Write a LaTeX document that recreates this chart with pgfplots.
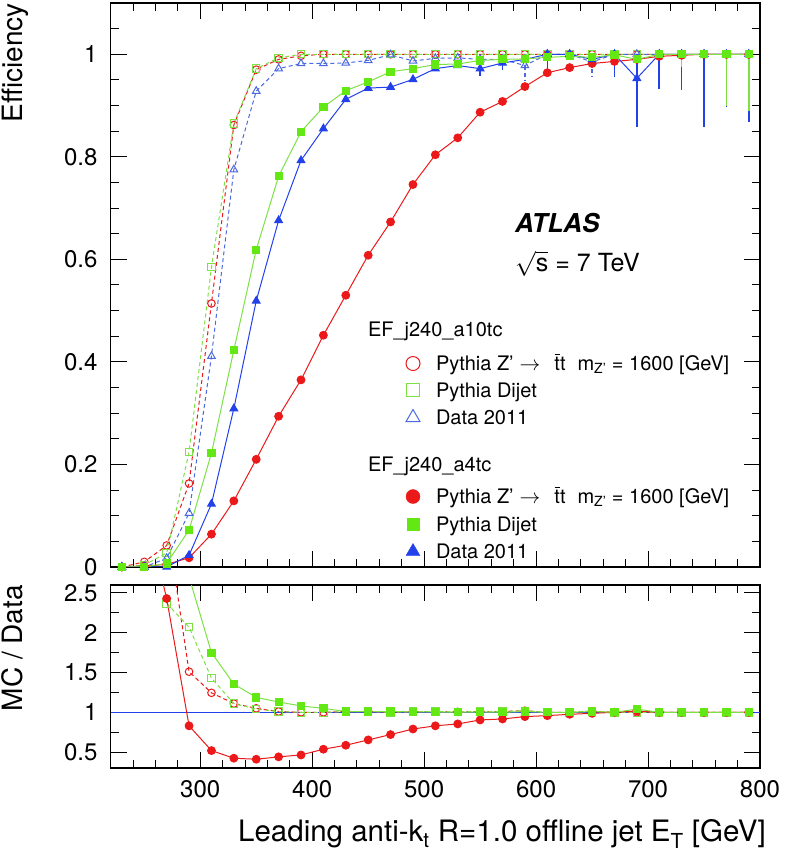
\documentclass[border=0pt]{standalone}
\usepackage{pgfplots}
\pgfplotsset{compat=1.18}
\usepackage{fontspec}
\setmainfont{TeX Gyre Heros}
\definecolor{cred}{RGB}{235,25,25}
\definecolor{cgreen}{RGB}{100,232,20}
\definecolor{cgreenl}{RGB}{125,225,70}
\definecolor{cblue}{RGB}{35,65,235}
\definecolor{cbluel}{RGB}{75,105,225}
\newcommand\fs[1]{\fontsize{#1}{#1}\selectfont}
\newcommand\rs[1]{\rule{0pt}{#1pt}}
\newcommand\ttbar{\makebox[0pt][l]{\hspace{0.3pt}\raisebox{15.5pt}{\rule{5.6pt}{1.3pt}}}tt}
\tikzset{dsh/.style={dash pattern=on 4pt off 3pt}}
\pgfplotsset{
  myax/.style={
    scale only axis, width=649.3pt, xmin=220, xmax=800,
    axis line style={line width=1.2pt, black},
    xtick={300,400,500,600,700,800},
    minor xtick={220,240,...,800},
    tick style={line width=1pt, black},
    major tick length=16pt, minor tick length=8pt,
    tick align=inside, xtick pos=both, ytick pos=both,
    tick label style={font=\fs{24}},
    /pgf/number format/assume math mode=true,
    yticklabel style={inner sep=0pt, xshift=-13pt},
    xticklabel style={inner sep=0pt, yshift=-12pt},
    clip=true,
  },
}
\begin{document}
\begin{tikzpicture}[x=1pt,y=1pt]
\useasboundingbox (0,0) rectangle (786,857);
% ---------------- main panel ----------------
\begin{axis}[myax, at={(110.7pt,290pt)}, anchor=south west, height=564pt,
  ymin=0, ymax=1.1, ytick={0,0.2,0.4,0.6,0.8,1},
  minor ytick={0.05,0.1,0.15,0.25,0.3,0.35,0.45,0.5,0.55,0.65,0.7,0.75,0.85,0.9,0.95,1.05},
  xticklabels={},
  legend image code/.code={\draw[#1] plot coordinates {(0pt,7pt)};},
  legend cell align=left,
  legend style={at={(rel axis cs:0.4548,0.4441)}, anchor=north west, draw=none, fill=none,
    inner sep=0pt, outer sep=0pt, row sep=0pt, column sep=16pt,
    nodes={inner sep=0pt, outer sep=0pt}, cells={anchor=base west}, font=\fs{20}},
]
% a10tc : Pythia Z'
\addplot[cred, line width=1pt, dsh, mark=o, mark size=3.8pt, mark options={solid}, forget plot] coordinates {
(230,0)(250,0.01)(270,0.042)(290,0.163)(310,0.514)(330,0.862)(350,0.97)(370,0.99)(390,0.997)(410,1)
(430,1)(450,1)(470,1)(490,1)(510,1)(530,1)(550,1)(570,1)(590,1)(610,1)(630,1)(650,1)(670,1)(690,1)
(710,1)(730,1)(750,1)(770,1)(790,1)};
% a10tc : Pythia Dijet
\addplot[cgreenl, line width=1pt, dsh, mark=square, mark size=3.7pt, mark options={solid}, forget plot] coordinates {
(230,0)(250,0.004)(270,0.027)(290,0.224)(310,0.585)(330,0.865)(350,0.972)(370,0.993)(390,1)(410,1)
(430,1)(450,1)(470,1)(490,1)(510,1)(530,1)(550,1)(570,1)(590,1)(610,1)(630,1)(650,1)(670,1)(690,1)
(710,1)(730,1)(750,1)(770,1)(790,1)};
% a10tc : Data 2011
\addplot[cbluel, line width=1pt, dsh, mark=triangle, mark size=4.4pt, mark options={solid}, forget plot,
  error bars/.cd, y dir=both, y explicit, error mark=none, error bar style={line width=1.3pt, cbluel, dsh}] coordinates {
(230,0)(250,0)(270,0.017)(290,0.105)(310,0.411)(330,0.775)(350,0.928)(370,0.972)(390,0.982)(410,0.982)
(430,0.983)(450,0.988)(470,0.999)(490,0.987)(510,0.992)(530,0.993)(550,0.99)(570,0.99)
(590,0.978) -= (0,0.03)
(610,1)(630,1)
(650,0.985) -= (0,0.03)
(670,1)(690,1)(710,1)(730,1)(750,1)(770,1)(790,1)};
% a4tc : Pythia Z'
\addplot[cred, line width=1pt, mark=*, mark size=3.9pt, forget plot] coordinates {
(230,0)(250,0.002)(270,0.005)(290,0.018)(310,0.064)(330,0.129)(350,0.21)(370,0.294)(390,0.365)(410,0.452)
(430,0.53)(450,0.608)(470,0.673)(490,0.746)(510,0.804)(530,0.837)(550,0.887)(570,0.908)(590,0.937)
(610,0.964)(630,0.974)(650,0.982)(670,0.986)(690,0.99)(710,0.996)(730,0.998)(750,1)(770,1)(790,1)};
% a4tc : Data 2011
\addplot[cblue, line width=1pt, mark=triangle*, mark size=4.4pt, forget plot,
  error bars/.cd, y dir=both, y explicit, error mark=none, error bar style={line width=1.5pt, cblue}] coordinates {
(230,0)(250,0)(270,0)(290,0.023)(310,0.123)(330,0.309)(350,0.519)(370,0.676)(390,0.793)(410,0.855)
(430,0.912)(450,0.934)(470,0.936)(490,0.951)(510,0.972)(530,0.978)
(550,0.972) -= (0,0.014)
(570,0.983) -= (0,0.014)
(590,0.99)
(610,1) -= (0,0.044)
(630,1)(650,0.99)
(670,1) -= (0,0.044)
(690,0.953) += (0,0.047) -= (0,0.095)
(710,1) -= (0,0.067)
(730,1) -= (0,0.07)
(750,1) -= (0,0.142)
(770,1) -= (0,0.103)
(790,1) -= (0,0.132)};
% a4tc : Pythia Dijet
\addplot[cgreenl, line width=1pt, mark=square*, mark size=3.6pt, mark options={cgreen}, forget plot,
  error bars/.cd, y dir=both, y explicit, error mark=none, error bar style={line width=1.5pt, cgreenl}] coordinates {
(230,0)(250,0)(270,0.007)(290,0.072)(310,0.222)(330,0.423)(350,0.619)(370,0.762)(390,0.849)(410,0.897)
(430,0.929)(450,0.946)(470,0.966)(490,0.972)(510,0.98)(530,0.981)(550,0.988)(570,0.99)(590,0.991)
(610,0.994)(630,0.996)(650,0.994)(670,0.999)(690,0.99)(710,1)
(730,1) -= (0,0.025)
(750,1)
(770,1) -= (0,0.1)
(790,1) -= (0,0.11)};
% legend
\addlegendimage{empty legend}
\addlegendentry{\hspace*{-68pt}EF\_j240\_a10tc\rs{19.5}}
\addlegendimage{only marks, mark=o, cred, mark size=7pt, line width=1pt}
\addlegendentry{Pythia Z’\hspace{6pt}$\rightarrow$\hspace{14pt}\ttbar\hspace{12pt}m\textsubscript{Z’} = 1600 [GeV]\rs{33}}
\addlegendimage{only marks, mark=square, cgreenl, mark size=6.3pt, line width=1pt}
\addlegendentry{Pythia Dijet\rs{25}}
\addlegendimage{only marks, mark=triangle, cbluel, mark size=8pt, line width=1pt}
\addlegendentry{Data 2011\rs{26}}
\addlegendimage{empty legend}
\addlegendentry{\hspace*{-68pt}EF\_j240\_a4tc\rs{45}}
\addlegendimage{only marks, mark=*, cred, mark size=7pt}
\addlegendentry{Pythia Z’\hspace{6pt}$\rightarrow$\hspace{14pt}\ttbar\hspace{12pt}m\textsubscript{Z’} = 1600 [GeV]\rs{31}}
\addlegendimage{only marks, mark=square*, cgreen, mark size=6.3pt}
\addlegendentry{Pythia Dijet\rs{26}}
\addlegendimage{only marks, mark=triangle*, cblue, mark size=8pt}
\addlegendentry{Data 2011\rs{26}}
\end{axis}
% ---------------- ratio panel ----------------
\begin{axis}[myax, at={(110.7pt,89pt)}, anchor=south west, height=183pt,
  ymin=0.3, ymax=2.6, ytick={0.5,1,1.5,2,2.5},
  minor ytick={0.75,1.25,1.75,2.25},
]
\addplot[cblue, line width=1pt] coordinates {(220,1)(800,1)};
% a10tc Z' / data
\addplot[cred, line width=1pt, dsh, mark=o, mark size=3.8pt, mark options={solid}] coordinates {
(270,3.4)(290,1.51)(310,1.245)(330,1.11)(350,1.05)(370,1.01)(390,1.0)(410,1.0)(430,1.01)(450,1.01)
(470,1.0)(490,1.01)(510,1.01)(530,1.005)(550,1.01)(570,1.01)(590,1.02)(610,1.0)(630,1.0)(650,1.015)
(670,1.0)(690,1.0)(710,1.0)(730,1.0)(750,1.0)(770,1.0)(790,1.0)};
% a10tc dijet / data
\addplot[cgreenl, line width=1pt, dsh, mark=square, mark size=3.7pt, mark options={solid}] coordinates {
(270,2.37)(290,2.07)(310,1.43)(330,1.11)(350,1.04)(370,1.01)(390,1.0)(410,1.0)(430,1.01)(450,1.01)
(470,1.0)(490,1.01)(510,1.01)(530,1.005)(550,1.01)(570,1.01)(590,1.02)(610,1.0)(630,1.0)(650,1.015)
(670,1.0)(690,1.0)(710,1.0)(730,1.0)(750,1.0)(770,1.0)(790,1.0)};
% a4tc Z' / data
\addplot[cred, line width=1pt, mark=*, mark size=3.9pt] coordinates {
(250,3.6)(270,2.43)(290,0.83)(310,0.519)(330,0.423)(350,0.41)(370,0.44)(390,0.464)(410,0.536)(430,0.586)
(450,0.653)(470,0.72)(490,0.79)(510,0.83)(530,0.854)(550,0.904)(570,0.916)(590,0.946)(610,0.958)
(630,0.975)(650,0.987)(670,1.0)(690,1.017)(710,1.0)(730,1.0)(750,1.0)(770,1.0)(790,1.0)};
% a4tc dijet / data
\addplot[cgreenl, line width=1pt, mark=square*, mark size=3.6pt, mark options={cgreen}] coordinates {
(290,2.7)(310,1.75)(330,1.355)(350,1.187)(370,1.13)(390,1.08)(410,1.05)(430,1.01)(450,1.01)(470,1.01)
(490,1.005)(510,1.005)(530,1.0)(550,1.005)(570,1.0)(590,1.01)(610,1.0)(630,1.0)(650,1.01)(670,1.0)
(690,1.04)(710,1.0)(730,1.0)(750,1.0)(770,1.0)(790,1.0)};
\end{axis}
% ---------------- texts ----------------
\node[rotate=90, anchor=base east, inner sep=0pt, font=\fs{28}] at (23,854) {Efficiency};
\node[rotate=90, anchor=base east, inner sep=0pt, font=\fs{28}] at (23,272) {MC / Data};
\node[anchor=base east, inner sep=0pt, font=\fs{29.5}] at (766,15) {Leading anti-k\textsubscript{t} R=1.0 offline jet E\textsubscript{T} [GeV]};
\node[anchor=base west, inner sep=0pt, font=\fs{26}\bfseries\itshape] at (515,624) {ATLAS};
\node[anchor=base west, inner sep=0pt, font=\fs{25}] at (515,585.5) {\smash{$\sqrt{\mbox{s}}$} = 7 TeV};
\end{tikzpicture}
\end{document}
